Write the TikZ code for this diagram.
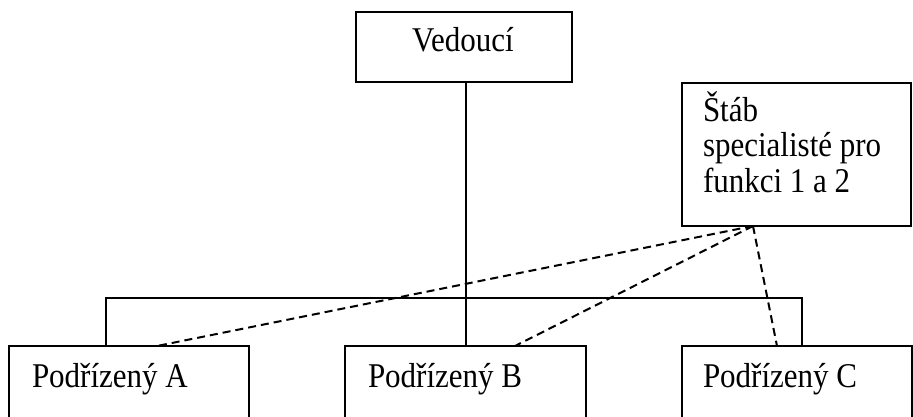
\documentclass[tikz,border=0pt]{standalone}
\usepackage{fontspec}
\setmainfont{Liberation Serif}
\newcommand{\vstretch}[1]{\scalebox{1}[1.12]{#1}}
\begin{document}
\begin{tikzpicture}[x=1pt,y=-1pt, line width=2pt,
 box/.style={draw, rectangle, inner sep=0pt, outer sep=0pt, anchor=north west},
 lbl/.style={anchor=base west, inner sep=0pt, font=\fontsize{31}{35}\selectfont},
 link/.style={draw, line width=2pt},
 staff/.style={draw, dash pattern=on 8pt off 5pt, line width=2pt}]
\useasboundingbox (0,0) rectangle (913,417);
\clip (0,0) rectangle (913,417);
% boxes
\node[box, minimum width=216pt, minimum height=70pt] (ved) at (356,12) {};
\node[box, minimum width=229pt, minimum height=143pt] (stab) at (682,83) {};
\node[box, minimum width=240pt, minimum height=100pt] (a) at (9,346) {};
\node[box, minimum width=241pt, minimum height=100pt] (b) at (345,346) {};
\node[box, minimum width=230pt, minimum height=100pt] (c) at (682,346) {};
% texts
\node[lbl, anchor=base] (tv) at (463,52) {\vstretch{Vedoucí}};
\node[lbl] (ts1) at (702,122) {\vstretch{Štáb}};
\node[lbl] (ts2) at (702,157) {\vstretch{specialisté pro}};
\node[lbl] (ts3) at (702,192) {\vstretch{funkci 1 a 2}};
\node[lbl] (ta) at (31,387) {\vstretch{Podřízený A}};
\node[lbl] (tb) at (367,387) {\vstretch{Podřízený B}};
\node[lbl] (tc) at (702,387) {\vstretch{Podřízený C}};
% solid connectors
\coordinate (hl) at (106,298);
\coordinate (hr) at (802,298);
\coordinate (vx) at (466,82);
\path[link] (a.north -| hl) -- (hl) -- (hr) -- (c.north -| hr);
\path[link] (vx) -- (vx |- b.north);
% dashed staff links
\coordinate (s0) at (753,226);
\coordinate (da) at (157,346);
\coordinate (db) at (515,346);
\coordinate (dc) at (777,346);
\path[staff] (s0) -- (da);
\path[staff] (s0) -- (db);
\path[staff] (s0) -- (dc);
\end{tikzpicture}
\end{document}
